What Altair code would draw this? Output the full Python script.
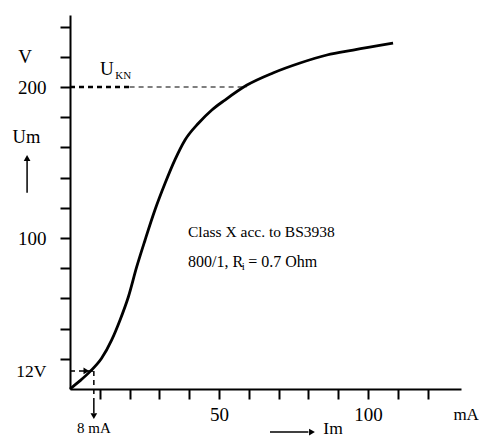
import altair as alt
import pandas as pd

# curve (Im in mA, Um in V)
curve_i = [0, 3.2, 6.7, 10.6, 14.0, 16.8, 19.6, 22.4, 25.2, 28.5, 31.9, 35.2, 38.6, 43.1, 47.6, 52.0, 59.4, 68.1, 77.2, 86.2, 95.0, 108.4]
curve_u = [0, 5.2, 11.5, 20.3, 32.5, 45.7, 61.1, 81.0, 98.7, 118.5, 136.2, 151.7, 164.9, 176.0, 184.8, 191.4, 201.3, 209.3, 215.9, 221.2, 224.5, 229.1]

x_ticks = [10, 20, 30, 40, 50, 60, 70, 80, 90, 100, 110, 120]
y_ticks = [20, 40, 60, 80, 100, 120, 140, 160, 180, 200, 220, 240]

X_MAX = 131.2
Y_MAX = 247.7
FONT = "Liberation Serif"

curve = pd.DataFrame({"i": curve_i, "u": curve_u})

xs = alt.Scale(domain=[0, X_MAX], nice=False, zero=False)
ys = alt.Scale(domain=[0, Y_MAX], nice=False, zero=False)

x_axis = alt.Axis(values=x_ticks, tickCount=40, title=None, grid=False, domainWidth=2, domainColor="black",
                  tickColor="black", tickWidth=2, tickSize=10, labelOverlap=False, labelFlush=False,
                  labelExpr="(datum.value == 50 || datum.value == 100) ? datum.label : ''",
                  labelFont=FONT, labelFontSize=19, labelColor="black", labelPadding=6)
y_axis = alt.Axis(values=y_ticks, tickCount=40, title=None, grid=False, domainWidth=2, domainColor="black",
                  tickColor="black", tickWidth=2, tickSize=10, labelOverlap=False, labelFlush=False,
                  labelExpr="(datum.value == 100 || datum.value == 200) ? datum.label : ''",
                  labelFont=FONT, labelFontSize=19, labelColor="black", labelPadding=14)

base = alt.Chart(curve)
line = base.mark_line(color="black", strokeWidth=2.8, interpolate="monotone").encode(
    x=alt.X("i:Q", scale=xs, axis=x_axis),
    y=alt.Y("u:Q", scale=ys, axis=y_axis),
)

# dashed helper lines
seg_i = [0, 20, 0, 8, 8]
seg_i2 = [20, 59.4, 8, 8, 8]
seg_u = [200, 200, 12, 12, 0]
seg_u2 = [200, 200, 12, 0, -6]
seg_w = [2.5, 1.2, 1.5, 1.5, 1.5]
segs = pd.DataFrame({"i": seg_i, "i2": seg_i2, "u": seg_u, "u2": seg_u2, "w": seg_w})
dashed = alt.Chart(segs).mark_rule(color="black", strokeDash=[5, 4]).encode(
    x="i:Q", x2="i2:Q", y="u:Q", y2="u2:Q",
    strokeWidth=alt.StrokeWidth("w:Q", scale=None, legend=None),
)

# arrow shafts (solid)
ar_i = [8, -14.4, 67.1]
ar_i2 = [8, -14.4, 80]
ar_u = [-6, 130, -28.5]
ar_u2 = [-16, 152, -28.5]
arrows = pd.DataFrame({"i": ar_i, "i2": ar_i2, "u": ar_u, "u2": ar_u2})
shafts = alt.Chart(arrows).mark_rule(color="black", strokeWidth=1.5).encode(
    x="i:Q", x2="i2:Q", y="u:Q", y2="u2:Q")

# arrow heads
head_i = [8, -14.4, 81.2, 5.5]
head_u = [-18, 153, -28.5, 12]
head_shape = ["triangle-down", "triangle-up", "triangle-right", "triangle-right"]
heads = pd.DataFrame({"i": head_i, "u": head_u, "s": head_shape})
head_marks = alt.Chart(heads).mark_point(filled=True, color="black", size=45, opacity=1).encode(
    x="i:Q", y="u:Q",
    shape=alt.Shape("s:N", scale=None, legend=None),
)

# texts (middle baseline)
txt_i = [-15.1, -14.6, -13.0, 8.0, 137.2, 10.1, 39.6, 39.6, 59.8]
txt_u = [220, 167, 11.3, -25.5, -17.2, 211.9, 104, 84, 84]
txt_s = ["V", "Um", "12V", "8 mA", "mA", "U", "Class X acc. to BS3938", "800/1, R", "= 0.7 Ohm"]
txt_a = ["center", "center", "center", "center", "right", "left", "left", "left", "left"]
txt_f = [19, 18.5, 17.5, 15, 17, 19, 15.5, 16, 16]
texts = pd.DataFrame({"i": txt_i, "u": txt_u, "t": txt_s, "a": txt_a, "f": txt_f})

def text_layer(df, align, baseline="middle"):
    return alt.Chart(df).mark_text(font=FONT, color="black", align=align, baseline=baseline).encode(
        x="i:Q", y="u:Q", text="t:N",
        size=alt.Size("f:Q", scale=None, legend=None))

text_c = text_layer(texts[texts.a == "center"], "center")
text_l = text_layer(texts[texts.a == "left"], "left")
text_r = text_layer(texts[texts.a == "right"], "right")

# "Im" axis caption, sitting on its baseline
im_i = [85.0]
im_u = [-29.8]
im_t = ["Im"]
im_f = [17.5]
im_df = pd.DataFrame({"i": im_i, "u": im_u, "t": im_t, "f": im_f})
text_im = text_layer(im_df, "left", "alphabetic")

# subscripts
sub_i = [15.2, 57.6]
sub_u = [207.3, 80.5]
sub_t = ["KN", "i"]
subs = pd.DataFrame({"i": sub_i, "u": sub_u, "t": sub_t})
sub_text = alt.Chart(subs).mark_text(font=FONT, color="black", align="left", baseline="middle", fontSize=11).encode(
    x="i:Q", y="u:Q", text="t:N")

chart = alt.layer(line, dashed, shafts, head_marks, text_c, text_l, text_r, text_im, sub_text).properties(
    width=391, height=374,
    autosize=alt.AutoSizeParams(type="none"),
    padding={"left": 62, "top": 7, "right": 18, "bottom": 49},
    background="white",
).configure_view(stroke=None)

chart.save("out.html", embed_options={"renderer": "svg", "actions": False})
